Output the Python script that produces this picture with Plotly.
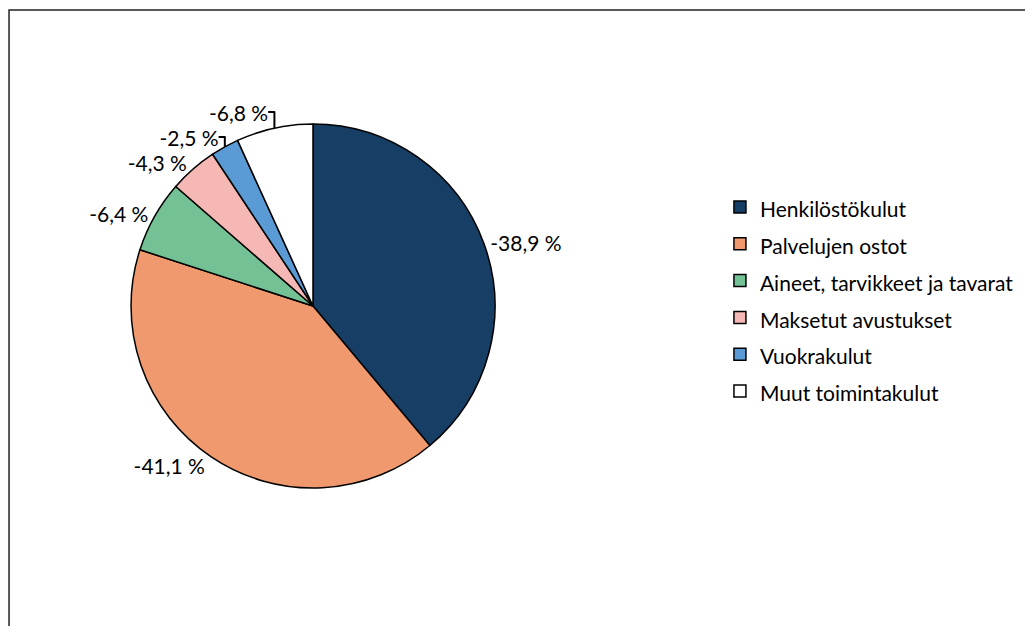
import plotly.graph_objects as go

# Kulurakenne (osuus toimintakuluista, %)
labels = [
    "Henkilöstökulut",
    "Palvelujen ostot",
    "Aineet, tarvikkeet ja tavarat",
    "Maksetut avustukset",
    "Vuokrakulut",
    "Muut toimintakulut",
]
values = [38.9, 41.1, 6.4, 4.3, 2.5, 6.8]
colors = ["#173F66", "#F1996E", "#73C195", "#F5B8B5", "#5B9BD5", "#FFFFFF"]

FONT = "Lato"

# legend text smaller than the legend font so the rows get more space
legend_labels = ["<span style='font-size:21px'>%s</span>" % s for s in labels]

fig = go.Figure(go.Pie(
    labels=legend_labels,
    values=values,
    sort=False,
    direction="clockwise",
    rotation=0,
    marker=dict(colors=colors, line=dict(color="black", width=1.5)),
    texttemplate="-%{value:.1f} %",
    textposition="outside",
    textfont=dict(family=FONT, size=21, color="black"),
    hovertemplate="%{label}: -%{value:.1f} %<extra></extra>",
    domain=dict(x=[0.1191, 0.4714], y=[0.2332, 0.8147]),
    automargin=False,
))

fig.update_layout(
    width=1033,
    height=626,
    margin=dict(l=0, r=0, t=0, b=0),
    paper_bgcolor="white",
    plot_bgcolor="white",
    separators=", ",
    font=dict(family=FONT, size=21, color="black"),
    showlegend=True,
    legend=dict(
        x=0.6892, y=0.535, xanchor="left", yanchor="middle",
        font=dict(family=FONT, size=26, color="black"),
        bgcolor="rgba(0,0,0,0)",
    ),
    shapes=[dict(
        type="rect", xref="paper", yref="paper",
        x0=0.001, x1=1.05, y0=-0.05, y1=0.997,
        line=dict(color="#222222", width=1.5),
        fillcolor="rgba(0,0,0,0)",
    )],
)

fig.write_html("out.html")
